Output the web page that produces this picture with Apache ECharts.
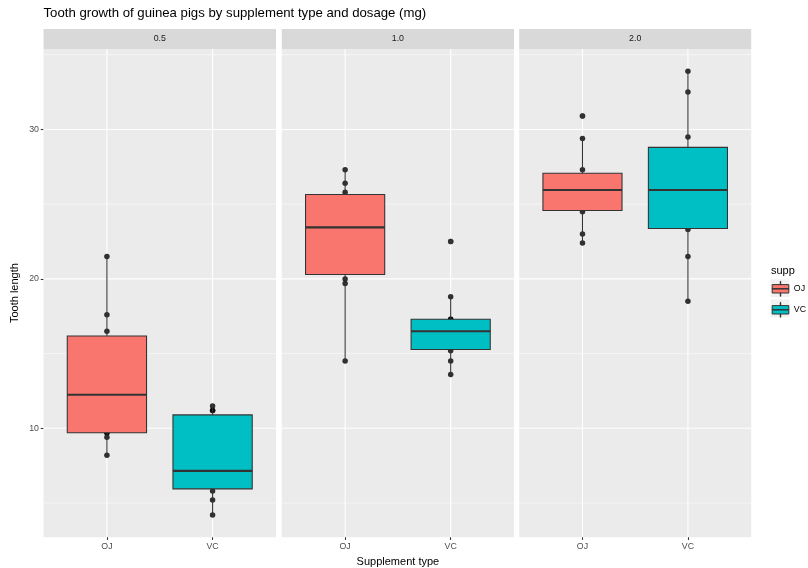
<!DOCTYPE html>
<html>
<head>
<meta charset="utf-8">
<script src="https://cdn.jsdelivr.net/npm/echarts@6/dist/echarts.min.js"></script>
<style>html,body{margin:0;padding:0;background:#fff}#c{width:808px;height:568px}</style>
</head>
<body>
<div id="c"></div>
<script>
// ---------- data ----------
const doses = ['0.5', '1.0', '2.0'];
const supps = ['OJ', 'VC'];
const yTicks = [10, 20, 30];
const yMinor = [5, 15, 25, 35];
const yRange = [2.715, 35.385];

// raw tooth lengths (points)
const ojDose05 = [15.2, 21.5, 17.6, 9.7, 14.5, 10.0, 8.2, 9.4, 16.5, 9.7];
const vcDose05 = [4.2, 11.5, 7.3, 5.8, 6.4, 10.0, 11.2, 11.2, 5.2, 7.0];
const ojDose10 = [19.7, 23.3, 23.6, 26.4, 20.0, 25.2, 25.8, 21.2, 14.5, 27.3];
const vcDose10 = [16.5, 16.5, 15.2, 17.3, 22.5, 17.3, 13.6, 14.5, 18.8, 15.5];
const ojDose20 = [25.5, 26.4, 22.4, 24.5, 24.8, 30.9, 26.4, 27.3, 29.4, 23.0];
const vcDose20 = [23.6, 18.5, 33.9, 25.5, 26.4, 32.5, 26.7, 21.5, 23.3, 29.5];

// box stats: [lower whisker, Q1, median, Q3, upper whisker]
const ojBox05 = [8.2, 9.7, 12.25, 16.175, 21.5];
const vcBox05 = [4.2, 5.95, 7.15, 10.9, 11.5];
const ojBox10 = [14.5, 20.3, 23.45, 25.65, 27.3];
const vcBox10 = [13.6, 15.275, 16.5, 17.3, 18.8];
const ojBox20 = [22.4, 24.575, 25.95, 27.075, 29.4];
const vcBox20 = [18.5, 23.375, 25.95, 28.8, 33.9];

// outliers
const ojOut05 = [], vcOut05 = [];
const ojOut10 = [], vcOut10 = [22.5];
const ojOut20 = [30.9], vcOut20 = [];

// ---------- build ----------
const colors = { OJ: '#F8766D', VC: '#00BFC4' };
const FONT = 'Liberation Sans, Arial, Helvetica, sans-serif';
const points = [[ojDose05, vcDose05], [ojDose10, vcDose10], [ojDose20, vcDose20]];
const boxes = [[ojBox05, vcBox05], [ojBox10, vcBox10], [ojBox20, vcBox20]];
const outs = [[ojOut05, vcOut05], [ojOut10, vcOut10], [ojOut20, vcOut20]];

const panels = [
  { left: 43.5, width: 232.5 },
  { left: 281.8, width: 232.2 },
  { left: 519.2, width: 232.0 }
];
const TOP = 49, BOTTOM = 537.2;

const grids = [], xAxes = [], yAxes = [], series = [], graphics = [];

function gridLines(params, api) {
  const kind = api.value(2);
  const cs = params.coordSys;
  if (kind === 2) {
    const p = api.coord([api.value(0), yRange[0]]);
    return { type: 'line', shape: { x1: p[0], y1: cs.y, x2: p[0], y2: cs.y + cs.height },
      style: { stroke: '#FFFFFF', lineWidth: 1.07 } };
  }
  const p = api.coord([1, api.value(1)]);
  return { type: 'line', shape: { x1: cs.x, y1: p[1], x2: cs.x + cs.width, y2: p[1] },
    style: { stroke: '#FFFFFF', lineWidth: kind === 0 ? 1.07 : 0.53 } };
}

function boxItem(color) {
  return function (params, api) {
    const x = api.value(0);
    const lo = api.coord([x, api.value(1)]);
    const q1 = api.coord([x, api.value(2)]);
    const md = api.coord([x, api.value(3)]);
    const q3 = api.coord([x, api.value(4)]);
    const hi = api.coord([x, api.value(5)]);
    const l = api.coord([x - 0.375, api.value(3)])[0];
    const r = api.coord([x + 0.375, api.value(3)])[0];
    const st = { stroke: '#333333', lineWidth: 1.07 };
    return { type: 'group', children: [
      { type: 'line', shape: { x1: hi[0], y1: hi[1], x2: q3[0], y2: q3[1] }, style: st },
      { type: 'line', shape: { x1: lo[0], y1: lo[1], x2: q1[0], y2: q1[1] }, style: st },
      { type: 'rect', shape: { x: l, y: q3[1], width: r - l, height: q1[1] - q3[1] },
        style: { fill: color, stroke: '#333333', lineWidth: 1.07 } },
      { type: 'line', shape: { x1: l, y1: md[1], x2: r, y2: md[1] },
        style: { stroke: '#333333', lineWidth: 2.13 } }
    ] };
  };
}

panels.forEach((p, i) => {
  grids.push({ left: p.left, width: p.width, top: TOP, height: BOTTOM - TOP,
    show: true, backgroundColor: '#EBEBEB', borderWidth: 0, containLabel: false, outerBoundsMode: 'none' });
  xAxes.push({
    gridIndex: i, type: 'value', min: 0.4, max: 2.6,
    axisLine: { show: false },
    axisTick: { show: true, length: 2.75, customValues: [1, 2], lineStyle: { color: '#333333', width: 1.07 } },
    axisLabel: { customValues: [1, 2], formatter: v => supps[Math.round(v) - 1] || '',
      color: '#4D4D4D', fontSize: 8.8, fontFamily: FONT, margin: 4.5 },
    splitLine: { show: false },
    name: i === 1 ? 'Supplement type' : '', nameLocation: 'middle', nameGap: 19.5,
    nameTextStyle: { color: '#000', fontSize: 11, fontFamily: FONT }
  });
  yAxes.push({
    gridIndex: i, type: 'value', min: yRange[0], max: yRange[1],
    axisLine: { show: false },
    axisTick: { show: i === 0, length: 2.75, customValues: yTicks, lineStyle: { color: '#333333', width: 1.07 } },
    axisLabel: { show: i === 0, customValues: yTicks, color: '#4D4D4D', fontSize: 8.8, fontFamily: FONT, margin: 4.5 },
    splitLine: { show: false },
    name: i === 0 ? 'Tooth length' : '', nameLocation: 'middle', nameRotate: 90, nameGap: 23,
    nameTextStyle: { color: '#000', fontSize: 11, fontFamily: FONT }
  });
  const gl = [];
  yTicks.forEach(v => gl.push([1, v, 0]));
  yMinor.forEach(v => gl.push([1, v, 1]));
  [1, 2].forEach(v => gl.push([v, 20, 2]));
  series.push({ type: 'custom', xAxisIndex: i, yAxisIndex: i, z: 1, silent: true,
    renderItem: gridLines, data: gl, encode: { x: 0, y: 1 }, clip: true });
  supps.forEach((s, k) => {
    series.push({ type: 'scatter', name: s + ' points', xAxisIndex: i, yAxisIndex: i, z: 2,
      symbol: 'circle', symbolSize: 5.5, itemStyle: { color: '#000000' },
      data: points[i][k].map(v => [k + 1, v]) });
  });
  supps.forEach((s, k) => {
    series.push({ type: 'custom', name: s, xAxisIndex: i, yAxisIndex: i, z: 3,
      itemStyle: { color: colors[s] },
      renderItem: boxItem(colors[s]), encode: { x: 0, y: [1, 2, 3, 4, 5] },
      data: [[k + 1].concat(boxes[i][k])] });
    series.push({ type: 'scatter', name: s + ' outliers', xAxisIndex: i, yAxisIndex: i, z: 4,
      symbol: 'circle', symbolSize: 5.5, itemStyle: { color: '#333333' },
      data: outs[i][k].map(v => [k + 1, v]) });
  });
  graphics.push({ type: 'rect', shape: { x: p.left, y: 29, width: p.width, height: 20 },
    style: { fill: '#D9D9D9' }, z: 0 });
  graphics.push({ type: 'text', x: p.left + p.width / 2, y: 39,
    style: { text: doses[i], fill: '#1A1A1A', font: '8.8px ' + FONT, align: 'center', verticalAlign: 'middle' }, z: 1 });
});

// legend key backgrounds + title
graphics.push({ type: 'text', x: 771, y: 271,
  style: { text: 'supp', fill: '#000', font: '11px ' + FONT, align: 'left', verticalAlign: 'middle' } });
[288.3, 308.3].forEach(cy => graphics.push({ type: 'rect', shape: { x: 770.5, y: cy - 9, width: 19, height: 18 },
  style: { fill: '#F2F2F2' }, z: 0 }));

const keyIcon = 'path://M0,33L166,33L166,117L0,117Z M0,73L166,73L166,77L0,77Z M81,0L85,0L85,33L81,33Z M81,117L85,117L85,150L81,150Z';

const option = {
  animation: false,
  title: { text: 'Tooth growth of guinea pigs by supplement type and dosage (mg)', left: 43.5, top: 7, padding: 0,
    textStyle: { color: '#000', fontSize: 13.2, fontWeight: 'normal', fontFamily: FONT } },
  grid: grids, xAxis: xAxes, yAxis: yAxes, series: series,
  legend: {
    orient: 'vertical', left: 771.7, top: 280.8, padding: 0, itemGap: 5, itemWidth: 16.6, itemHeight: 15, z: 5,
    selectedMode: false,
    textStyle: { color: '#000', fontSize: 8.8, fontFamily: FONT },
    data: supps.map(s => ({ name: s, icon: keyIcon,
      itemStyle: { color: colors[s], borderColor: '#333333', borderWidth: 1 } }))
  },
  graphic: graphics
};

const chart = echarts.init(document.getElementById('c'), null, { renderer: 'canvas' });
chart.setOption(option);
</script>
</body>
</html>
